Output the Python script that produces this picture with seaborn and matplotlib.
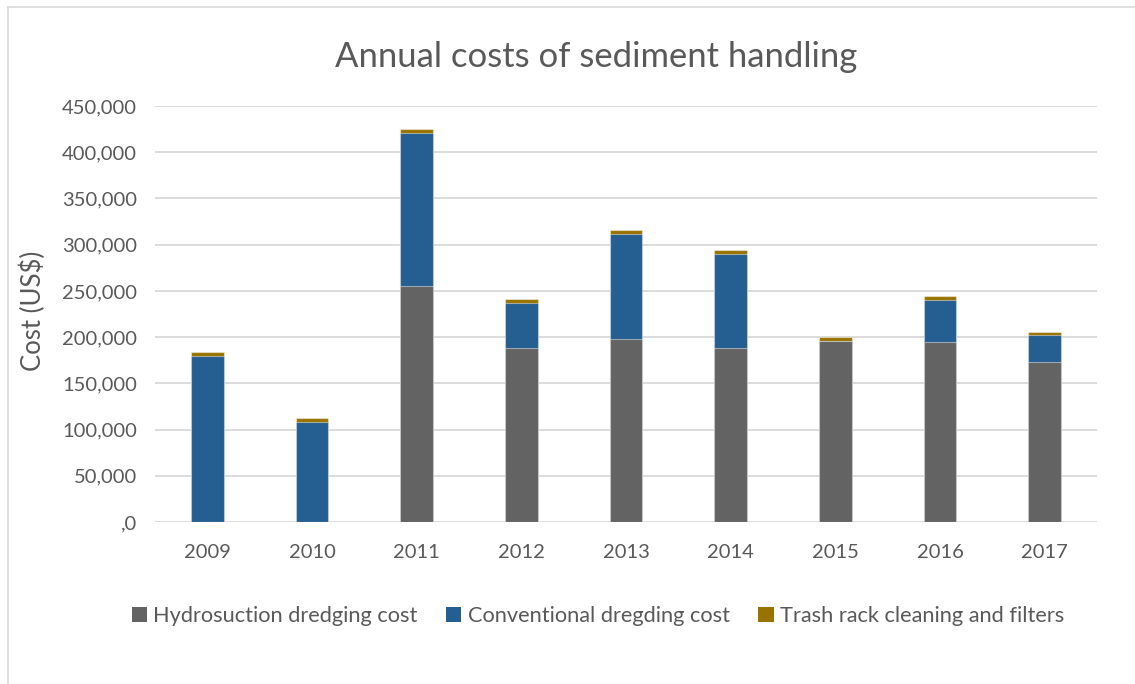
import matplotlib
matplotlib.use("Agg")
import matplotlib.pyplot as plt
from matplotlib.lines import Line2D
from matplotlib.patches import Patch
from matplotlib.ticker import FuncFormatter, MultipleLocator
import seaborn as sns
import pandas as pd

years = ["2009", "2010", "2011", "2012", "2013", "2014", "2015", "2016", "2017"]
hydrosuction = [0, 0, 255000, 188000, 198000, 188000, 196000, 195000, 173000]
conventional = [180000, 108000, 166000, 49000, 114000, 102000, 0, 45000, 29000]
trash_rack = [4000, 4000, 4000, 4000, 4000, 4000, 4000, 4000, 4000]

series_names = ["Hydrosuction dredging cost", "Conventional dregding cost",
                "Trash rack cleaning and filters"]
colors = ["#636363", "#255e91", "#997300"]

df = pd.DataFrame({
    "year": years,
    "hydro": hydrosuction,
    "conv": conventional,
    "trash": trash_rack,
})
df["lvl1"] = df["hydro"]
df["lvl2"] = df["hydro"] + df["conv"]
df["lvl3"] = df["lvl2"] + df["trash"]

sns.set_theme(style="white")
plt.rcParams["font.family"] = ["Lato", "DejaVu Sans"]
text_col = "#595959"

W, H = 1135, 684
fig = plt.figure(figsize=(W / 100, H / 100), dpi=100)
ax = fig.add_axes([155 / W, 162 / H, 942 / W, 416 / H])

# stacked bars: draw cumulative totals from the top layer downwards
bar_kw = dict(width=0.31, linewidth=0.8, saturation=1, ax=ax, zorder=3)
sns.barplot(data=df, x="year", y="lvl3", color=colors[2], **bar_kw)
sns.barplot(data=df, x="year", y="lvl2", color=colors[1], **bar_kw)
sns.barplot(data=df, x="year", y="lvl1", color=colors[0], **bar_kw)
for p in ax.patches:
    p.set_edgecolor((1, 1, 1, 0.45))

ax.set_xlim(-0.5, len(years) - 0.5)
ax.set_ylim(0, 450000)
ax.yaxis.set_major_locator(MultipleLocator(50000))
ax.yaxis.set_major_formatter(FuncFormatter(lambda v, _: ",0" if v == 0 else f"{v:,.0f}"))
ax.grid(axis="y", color="#d9d9d9", linewidth=1.3, zorder=0)
ax.set_axisbelow(True)
for s in ax.spines.values():
    s.set_visible(False)
ax.tick_params(axis="both", length=0, labelsize=14.5, colors=text_col)
ax.tick_params(axis="x", pad=16)
ax.tick_params(axis="y", pad=13)
ax.set_xlabel("")
ax.set_ylabel("")
fig.text(33 / W, 1 - 311 / H, "Cost (US$)", rotation=90, ha="center", va="center",
         fontsize=18.5, color=text_col)

fig.text(596 / W, 1 - 57 / H, "Annual costs of sediment handling", ha="center", va="center",
         fontsize=24.9, color=text_col)

handles = [Patch(facecolor=c, edgecolor="none") for c in colors]
fig.legend(handles, series_names, loc="center", bbox_to_anchor=(598 / W, 1 - 616 / H), ncol=3,
           frameon=False, fontsize=15.7, labelcolor=text_col, handlelength=0.7,
           handleheight=0.7, handletextpad=0.3, columnspacing=1.3)

# chart frame (top and left edges)
frame_kw = dict(transform=fig.transFigure, color="#d9d9d9", linewidth=1.2)
fig.add_artist(Line2D([8 / W, 1.0], [1 - 7 / H, 1 - 7 / H], **frame_kw))
fig.add_artist(Line2D([8 / W, 8 / W], [0.0, 1 - 7 / H], **frame_kw))

fig.savefig("out.png", dpi=100, facecolor="white")
